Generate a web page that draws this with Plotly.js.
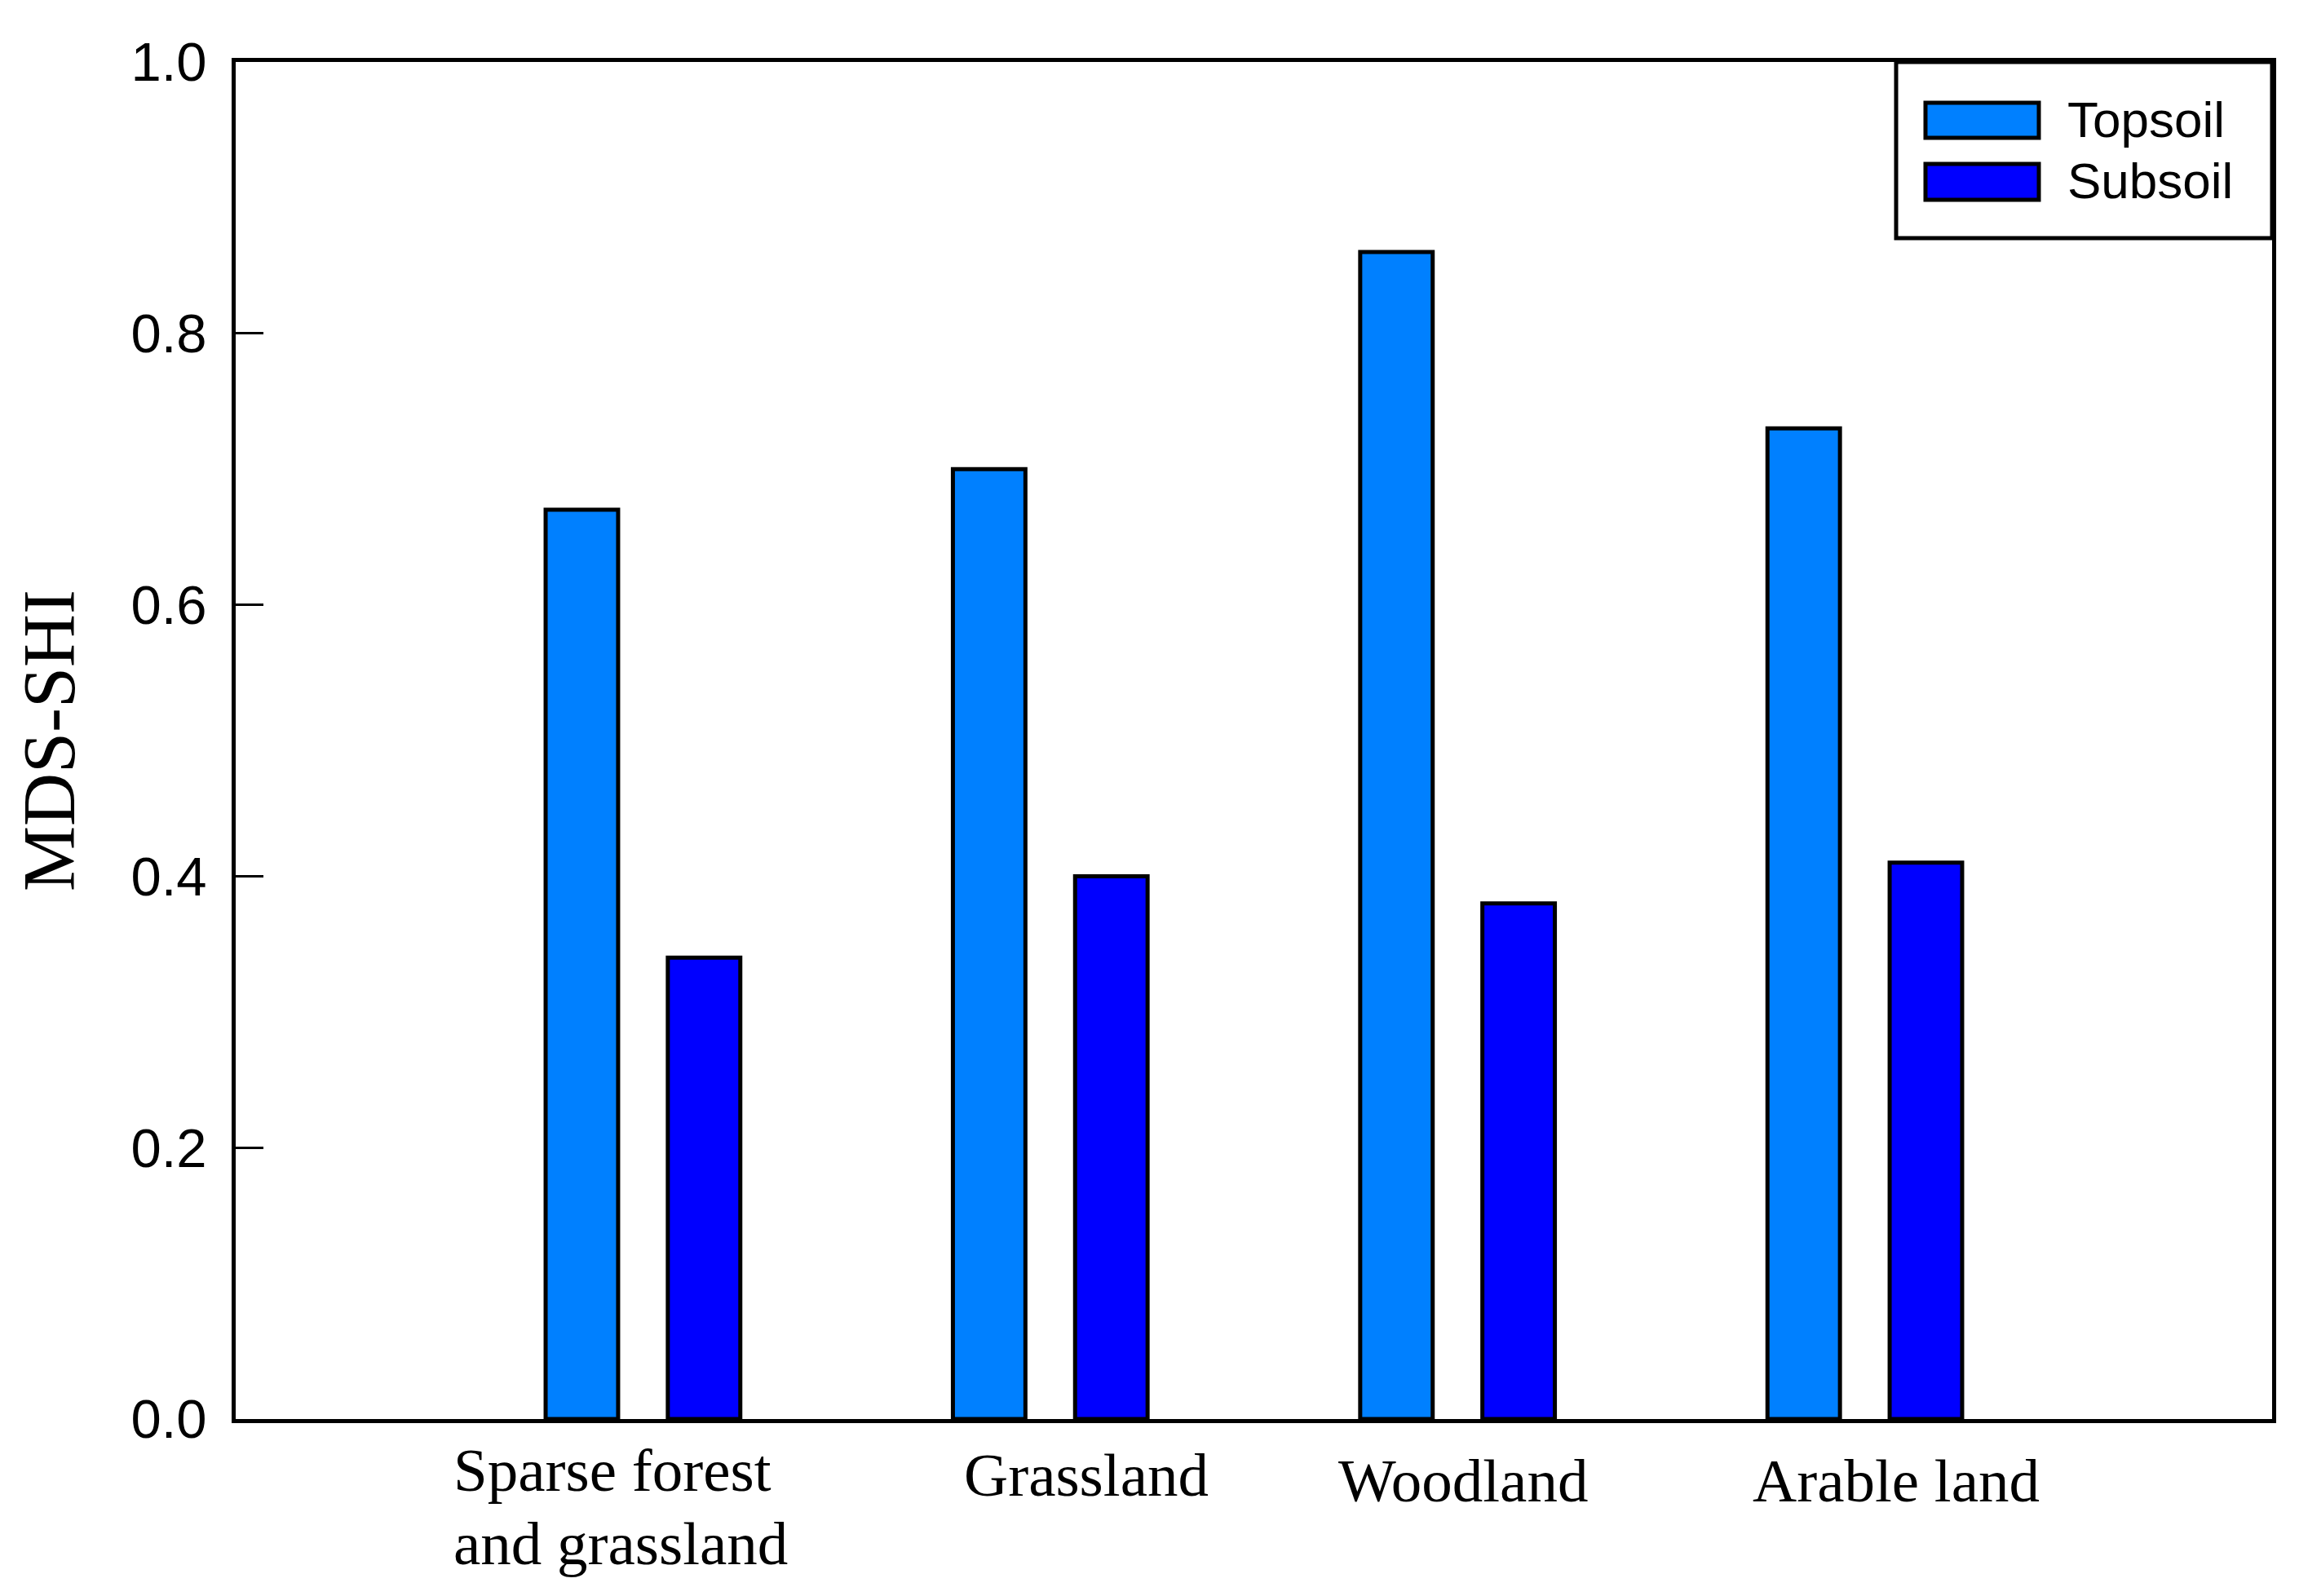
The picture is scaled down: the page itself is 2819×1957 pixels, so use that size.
<!DOCTYPE html>
<html>
<head>
<meta charset="utf-8">
<script src="https://cdn.plot.ly/plotly-3.0.1.min.js"></script>
<style>html,body{margin:0;padding:0;background:#fff;}#chart{width:2819px;height:1957px;}</style>
</head>
<body>
<div id="chart"></div>
<script>
// ---- data ----
const categories = ["Sparse forest and grassland", "Grassland", "Woodland", "Arable land"];
const categoryLabelLines = [["Sparse forest", "and grassland"], ["Grassland"], ["Woodland"], ["Arable land"]];
const topsoil = [0.67, 0.70, 0.86, 0.73];
const subsoil = [0.34, 0.40, 0.38, 0.41];
const seriesNames = ["Topsoil", "Subsoil"];
const yTickVals = [0.0, 0.2, 0.4, 0.6, 0.8, 1.0];
const yTitle = "MDS-SHI";

// ---- layout helpers ----
const W = 2819, H = 1957;
const M = {l: 289, r: 33, t: 76, b: 217};
const PW = W - M.l - M.r, PH = H - M.t - M.b;
const px = x => (x - M.l) / PW;
const py = y => (H - M.b - y) / PH;

const colTop = "#0080FF", colSub = "#0000FF";

const traces = [
  {type: "bar", name: seriesNames[0], x: categories, y: topsoil, width: 0.178, offset: -0.239,
   marker: {color: colTop, line: {color: "#000", width: 5}}, showlegend: false},
  {type: "bar", name: seriesNames[1], x: categories, y: subsoil, width: 0.178, offset: 0.061,
   marker: {color: colSub, line: {color: "#000", width: 5}}, showlegend: false}
];

// x category labels (placed via annotations to mimic original offsets)
const labelShift = [-24, 44, 7, 38];
const labelTop = [1759, 1765, 1772, 1772];
const lineStep = 90;
const annotations = [];
categories.forEach((c, i) => {
  const lines = categoryLabelLines[i];
  lines.forEach((t, j) => {
    annotations.push({
      xref: "x", yref: "paper", x: c, y: py(labelTop[i] + j * lineStep),
      xshift: lines.length > 1 ? labelShift[i] - 210 : labelShift[i],
      yanchor: "top", xanchor: lines.length > 1 ? "left" : "center", showarrow: false,
      text: t, font: {family: "Liberation Serif", size: 75, color: "#000"}
    });
  });
});

// custom legend
const legendFont = {family: "Liberation Sans", size: 62, color: "#000"};
annotations.push(
  {xref: "paper", yref: "paper", x: px(2533), y: py(146), xanchor: "left", yanchor: "middle",
   text: seriesNames[0], showarrow: false, font: legendFont},
  {xref: "paper", yref: "paper", x: px(2533), y: py(222), xanchor: "left", yanchor: "middle",
   text: seriesNames[1], showarrow: false, font: legendFont}
);
const shapes = [
  {type: "rect", xref: "paper", yref: "paper", x0: px(2325), x1: 1, y0: py(292), y1: 1,
   fillcolor: "#fff", line: {color: "#000", width: 5}},
  {type: "rect", xref: "paper", yref: "paper", x0: px(2361), x1: px(2500), y0: py(169), y1: py(126),
   fillcolor: colTop, line: {color: "#000", width: 5}},
  {type: "rect", xref: "paper", yref: "paper", x0: px(2361), x1: px(2500), y0: py(245), y1: py(201),
   fillcolor: colSub, line: {color: "#000", width: 5}}
];

const layout = {
  width: W, height: H,
  margin: M,
  paper_bgcolor: "#fff", plot_bgcolor: "#fff",
  barmode: "overlay",
  showlegend: false,
  font: {family: "Liberation Sans", color: "#000"},
  xaxis: {
    type: "category", categoryarray: categories, range: [-1, 4],
    showline: true, linecolor: "#000", linewidth: 5, mirror: true,
    ticks: "", showticklabels: false, showgrid: false, zeroline: false, fixedrange: true
  },
  yaxis: {
    range: [0, 1], tickvals: yTickVals, tickformat: ".1f",
    ticks: "inside", ticklen: 34, tickwidth: 3, tickcolor: "#000",
    ticklabelstandoff: 17,
    tickfont: {family: "Liberation Sans", size: 67, color: "#000"},
    showline: true, linecolor: "#000", linewidth: 5, mirror: true,
    showgrid: false, zeroline: false,
    title: {text: yTitle, standoff: 40, font: {family: "Liberation Serif", size: 90, color: "#000"}}
  },
  annotations: annotations,
  shapes: shapes
};

Plotly.newPlot("chart", traces, layout, {displayModeBar: false, staticPlot: true});
</script>
</body>
</html>
